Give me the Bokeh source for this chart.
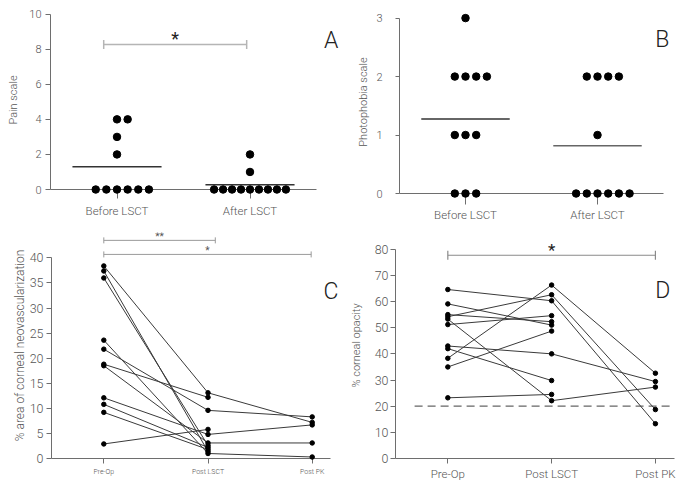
import numpy as np
from bokeh.plotting import figure
from bokeh.models import FixedTicker, Label
from bokeh.layouts import column, row
from bokeh.embed import file_html
from bokeh.resources import INLINE

# ---------------- data ----------------
groups_ab = ["Before LSCT", "After LSCT"]
pain_before = [4, 4, 3, 2, 0, 0, 0, 0, 0, 0]
pain_after = [2, 1, 0, 0, 0, 0, 0, 0, 0, 0, 0]
photo_before = [3, 2, 2, 2, 2, 1, 1, 1, 0, 0, 0]
photo_after = [2, 2, 2, 2, 1, 0, 0, 0, 0, 0, 0]

stages = ["Pre-Op", "Post LSCT", "Post PK"]
nan = float("nan")
neo_pre = [38.4, 37.4, 36.0, 23.6, 21.8, 18.8, 18.5, 12.1, 10.8, 9.2, 2.9]
neo_lsct = [13.1, 1.4, 2.6, 1.0, 9.6, 12.2, 3.1, 4.8, 2.2, 1.8, 5.8]
neo_pk = [7.2, nan, nan, 0.3, 8.3, nan, 3.1, 6.7, nan, nan, nan]

opa_pre = [64.6, 59.1, 55.0, 54.2, 53.3, 51.2, 43.0, 42.0, 38.3, 35.0, 23.2]
opa_lsct = [60.3, 51.0, 52.3, 62.6, 22.1, 54.6, 40.0, 29.8, 66.3, 48.7, 24.5]
opa_pk = [13.3, nan, nan, 18.7, 27.3, nan, 29.4, nan, 32.6, nan, nan]
opa_threshold = 20

# comparisons: (from, to, level, label)
sig_a = [(0.9, 1.975, 8.27, "*")]
sig_c = [(1.0, 2.07, 43.5, "**"), (1.0, 2.99, 40.7, "*")]
sig_d = [(1.0, 3.0, 77.7, "*")]

FONT = "Roboto Light"
AX = "#6e6e6e"
TXT = "#555555"


def make_fig(fw, fh, bl, br, bt, bb, xr, yr):
    p = figure(frame_width=fw, frame_height=fh, x_range=xr, y_range=yr,
               output_backend="svg", toolbar_location=None,
               min_border_left=bl, min_border_right=br,
               min_border_top=bt, min_border_bottom=bb)
    p.outline_line_color = None
    p.grid.visible = False
    for ax in p.axis:
        ax.axis_line_color = AX
        ax.major_tick_line_color = AX
        ax.minor_tick_line_color = None
        ax.major_tick_in = 0
        ax.major_label_text_color = TXT
        ax.major_label_text_font = FONT
        ax.axis_label_text_color = TXT
        ax.axis_label_text_font = FONT
        ax.axis_label_text_font_style = "normal"
    return p


def swarm(values, step, max_half):
    vals = np.asarray(values, dtype=float)
    off = np.zeros(len(vals))
    for v in np.unique(vals):
        idx = np.where(vals == v)[0]
        n = len(idx)
        slots = []
        for k in range(n):
            slots.append(((k + 1) // 2) * (1 if k % 2 == 1 else -1) if k else 0)
        m = max(abs(s) for s in slots) if n > 1 else 1
        s = min(step, max_half / m) if m else step
        off[idx] = np.array(slots) * s
    return off


def dot_panel(p, series_list, step, max_half, dot_size, mean_colors):
    for i, vals in enumerate(series_list):
        xc = i + 1
        xs = xc + swarm(vals, step, max_half)
        p.scatter(xs, vals, size=dot_size, color="black", level="overlay")
        m = float(np.mean(vals))
        p.segment(x0=[xc - 0.335], x1=[xc + 0.335], y0=[m], y1=[m],
                  line_color=mean_colors[i], line_width=1.5)


def sig_bars(p, sigs, color, tick_size, star_size, star_color, star_dy, width=1.2):
    for x0, x1, y, lab in sigs:
        p.segment(x0=[x0], x1=[x1], y0=[y], y1=[y], line_color=color,
                  line_width=width, level="overlay")
        p.scatter([x0, x1], [y, y], marker="dash", angle=np.pi / 2,
                  size=tick_size, line_color=color, line_width=width,
                  level="overlay")
        p.add_layout(Label(x=(x0 + x1) / 2, y=y + star_dy, text=lab,
                           text_align="center", text_baseline="middle",
                           text_font="Roboto", text_font_size=star_size,
                           text_color=star_color))


def letter(p, x, y, t):
    p.add_layout(Label(x=x, y=y, text=t, text_align="center",
                       text_baseline="middle", text_font=FONT,
                       text_font_size="23px", text_color="#222222"))


def line_panel(p, pre, mid, post):
    xs, ys = [], []
    for a, b, c in zip(pre, mid, post):
        px, py = [1, 2], [a, b]
        if not np.isnan(c):
            px.append(3)
            py.append(c)
        xs.append(px)
        ys.append(py)
    p.multi_line(xs, ys, line_color="#3a3a3a", line_width=1)
    allx = [x for l in xs for x in l]
    ally = [y for l in ys for y in l]
    p.scatter(allx, ally, size=4.5, color="black", level="overlay")


# ---------------- Panel A ----------------
pA = make_fig(293, 179, 50, 0, 10, 41, (0.5, 0.5 + 293 / 133), (0, 10.21))
dot_panel(pA, [pain_before, pain_after], 0.08, 0.27, 7.5, ["#333333", "#333333"])
pA.yaxis.ticker = FixedTicker(ticks=[0, 2, 4, 6, 8, 10])
pA.yaxis.bounds = (0, 10)
pA.xaxis.bounds = (0.5, 2.5)
pA.yaxis.axis_label = "Pain scale"
pA.yaxis.major_tick_out = 5
pA.yaxis.major_label_standoff = 4
pA.yaxis.axis_label_standoff = 6
pA.yaxis.major_label_text_font_size = "11px"
pA.yaxis.axis_label_text_font_size = "11px"
pA.xaxis.ticker = FixedTicker(ticks=[1, 2])
pA.xaxis.major_label_overrides = {1: groups_ab[0], 2: groups_ab[1]}
pA.xaxis.major_tick_out = 9
pA.xaxis.major_label_standoff = 5
pA.xaxis.major_label_text_font_size = "11.5px"
sig_bars(pA, sig_a, "#b5b5b5", 9, "18px", "#222222", 0.33, 1.5)
letter(pA, 2.61, 8.49, "A")

# ---------------- Panel B ----------------
pB = make_fig(286, 183, 56, 0, 10, 37, (0.5, 0.5 + 286 / 132), (0, 3.13))
dot_panel(pB, [photo_before, photo_after], 0.081, 0.27, 7.5, ["#333333", "#666666"])
pB.yaxis.ticker = FixedTicker(ticks=[0, 1, 2, 3])
pB.yaxis.bounds = (0, 3)
pB.xaxis.bounds = (0.5, 2.5)
pB.yaxis.axis_label = "Photophobia scale"
pB.yaxis.major_tick_out = 4
pB.yaxis.major_label_standoff = 13
pB.yaxis.axis_label_standoff = 3
pB.yaxis.major_label_text_font_size = "11px"
pB.yaxis.axis_label_text_font_size = "11px"
pB.xaxis.ticker = FixedTicker(ticks=[1, 2])
pB.xaxis.major_label_overrides = {1: groups_ab[0], 2: groups_ab[1]}
pB.xaxis.major_tick_out = 11
pB.xaxis.major_label_standoff = 3
pB.xaxis.major_label_text_font_size = "11.5px"
letter(pB, 2.49, 2.64, "B")

# ---------------- Panel C ----------------
pC = make_fig(292, 226, 51, 0, 2, 30, (0.498, 0.498 + 292 / 104.2), (0, 45.07))
line_panel(pC, neo_pre, neo_lsct, neo_pk)
pC.yaxis.ticker = FixedTicker(ticks=list(range(0, 41, 5)))
pC.yaxis.bounds = (0, 40)
pC.yaxis.axis_label = "% area of corneal neovascularization"
pC.yaxis.major_tick_out = 5
pC.yaxis.major_label_standoff = 3
pC.yaxis.axis_label_standoff = 0
pC.yaxis.major_label_text_font_size = "12.5px"
pC.yaxis.axis_label_text_font_size = "12px"
pC.xaxis.ticker = FixedTicker(ticks=[1, 2, 3])
pC.xaxis.major_label_overrides = {1: stages[0], 2: stages[1], 3: stages[2]}
pC.xaxis.bounds = (0.498, 3.18)
pC.xaxis.major_tick_out = 5
pC.xaxis.major_label_standoff = 4
pC.xaxis.major_label_text_font_size = "7px"
sig_bars(pC, sig_c, "#9a9a9a", 6, "10px", "#555555", 0.75, 1.0)
letter(pC, 3.18, 33.4, "C")

# ---------------- Panel D ----------------
pD = make_fig(290, 226, 52, 0, 2, 30, (0.496, 0.496 + 290 / 103.8), (0, 86.39))
pD.segment(x0=[0.68], x1=[3.16], y0=[opa_threshold], y1=[opa_threshold],
           line_color="#666666", line_width=1.2, line_dash="8 5")
line_panel(pD, opa_pre, opa_lsct, opa_pk)
pD.yaxis.ticker = FixedTicker(ticks=list(range(0, 81, 10)))
pD.yaxis.bounds = (0, 80)
pD.yaxis.axis_label = "% corneal opacity"
pD.yaxis.major_tick_out = 5
pD.yaxis.major_label_standoff = 2
pD.yaxis.axis_label_standoff = 9
pD.yaxis.major_label_text_font_size = "12.5px"
pD.yaxis.axis_label_text_font_size = "11px"
pD.xaxis.ticker = FixedTicker(ticks=[1, 2, 3])
pD.xaxis.major_label_overrides = {1: stages[0], 2: stages[1], 3: stages[2]}
pD.xaxis.bounds = (0.496, 3.18)
pD.xaxis.major_tick_out = 5
pD.xaxis.major_label_standoff = 3
pD.xaxis.major_label_text_font_size = "11.5px"
sig_bars(pD, sig_d, "#8a8a8a", 9, "17px", "#222222", 2.0, 1.2)
letter(pD, 3.07, 64.3, "D")

layout = column(row(pA, pB), row(pC, pD))
open("out.html", "w").write(file_html(layout, INLINE))
